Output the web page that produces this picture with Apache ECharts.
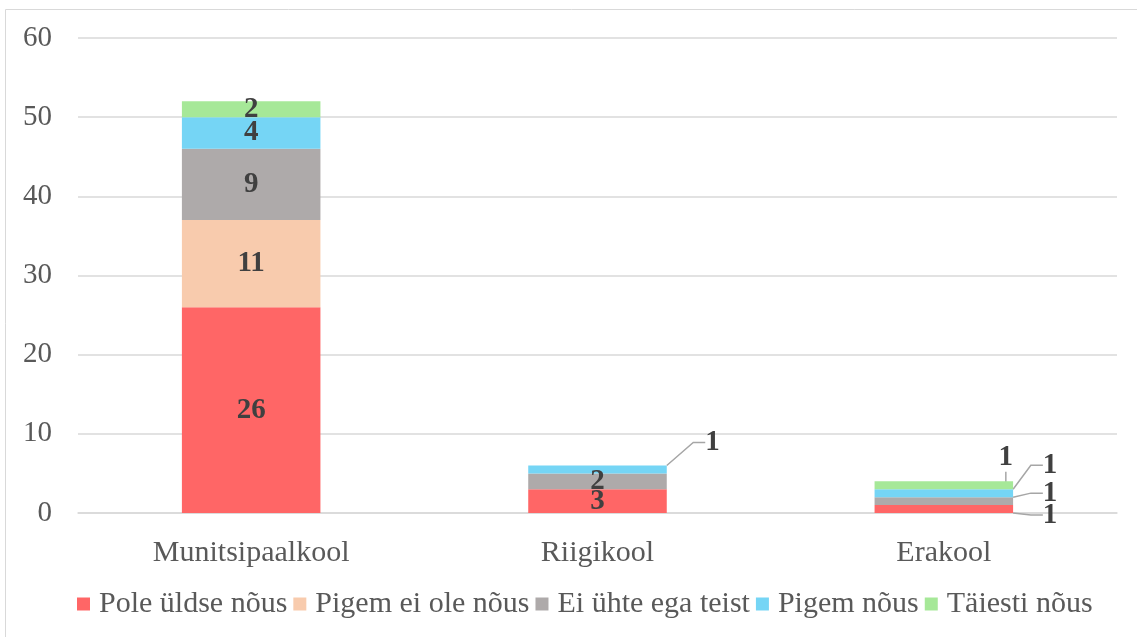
<!DOCTYPE html>
<html>
<head>
<meta charset="utf-8">
<script src="https://cdn.jsdelivr.net/npm/echarts@6/dist/echarts.min.js"></script>
<style>
  html, body { margin: 0; padding: 0; background: #fff; }
  #chart { width: 1137px; height: 637px; }
</style>
</head>
<body>
<div id="chart"></div>
<script>
const categories = ['Munitsipaalkool', 'Riigikool', 'Erakool'];
const seriesNames = ['Pole üldse nõus', 'Pigem ei ole nõus', 'Ei ühte ega teist', 'Pigem nõus', 'Täiesti nõus'];
const poleUldse = [26, 3, 1];
const pigemEi = [11, 0, 0];
const eiUhte = [9, 2, 1];
const pigemNous = [4, 1, 1];
const taiesti = [2, 0, 1];
const yTicks = [0, 10, 20, 30, 40, 50, 60];

const colors = ['#FF6666', '#F8CBAD', '#AEAAAA', '#75D5F5', '#A6E898'];
const values = [poleUldse, pigemEi, eiUhte, pigemNous, taiesti];
const font = '"Liberation Serif", "Times New Roman", serif';

// small segments get their labels pulled out with a leader line
// key: seriesIndex-dataIndex
const callouts = {
  '3-1': r => ({ x: r.x + r.width / 2 + 115, y: r.y - 23 }),
  '4-2': r => ({ x: r.x + r.width / 2 + 62, y: r.y - 24 }),
  '3-2': r => ({ x: r.x + r.width + 37, y: r.y - 24 }),
  '2-2': r => ({ x: r.x + r.width + 37, y: r.y + r.height / 2 - 8 }),
  '0-2': r => ({ x: r.x + r.width + 37, y: r.y + r.height / 2 + 6 })
};

const chart = echarts.init(document.getElementById('chart'));

const series = seriesNames.map((name, si) => ({
  name: name,
  type: 'bar',
  stack: 'total',
  barWidth: '40%',
  itemStyle: { color: colors[si] },
  data: values[si].map((v, di) => {
    const item = { value: v };
    if (callouts[si + '-' + di]) {
      item.labelLine = { show: true };
    }
    return item;
  }),
  label: {
    show: true,
    position: 'inside',
    fontFamily: font,
    fontWeight: 'bold',
    fontSize: 29,
    color: '#404040',
    formatter: p => (p.value ? String(p.value) : '')
  },
  labelLine: {
    show: false,
    length2: 12,
    lineStyle: { color: '#A6A6A6', width: 1.5 }
  },
  labelLayout: function (p) {
    const f = callouts[p.seriesIndex + '-' + p.dataIndex];
    if (!f) return {};
    const pos = f(p.rect);
    return { x: pos.x, y: pos.y, align: 'center', verticalAlign: 'middle' };
  }
}));

chart.setOption({
  animation: false,
  graphic: [{
    type: 'rect',
    shape: { x: 5.5, y: 9.5, width: 1140, height: 640 },
    style: { fill: 'none', stroke: '#D9D9D9', lineWidth: 1 },
    silent: true
  }],
  grid: { left: 78, right: 20, top: 38, bottom: 124 },
  legend: {
    bottom: 13,
    left: 72,
    itemWidth: 13,
    itemHeight: 13,
    itemGap: 6,
    icon: 'rect',
    textStyle: { fontFamily: font, fontSize: 30, color: '#595959', padding: [0, 0, 0, 4] },
    data: seriesNames
  },
  xAxis: {
    type: 'category',
    data: categories,
    axisLine: { lineStyle: { color: '#D9D9D9', width: 1.5 } },
    axisTick: { show: false },
    axisLabel: { fontFamily: font, fontSize: 30, color: '#595959', margin: 25 }
  },
  yAxis: {
    type: 'value',
    min: yTicks[0],
    max: yTicks[yTicks.length - 1],
    interval: 10,
    axisLine: { show: false },
    axisTick: { show: false },
    splitLine: { lineStyle: { color: '#D9D9D9', width: 1.5 } },
    axisLabel: { fontFamily: font, fontSize: 29, color: '#595959', margin: 26 }
  },
  series: series
});
</script>
</body>
</html>
